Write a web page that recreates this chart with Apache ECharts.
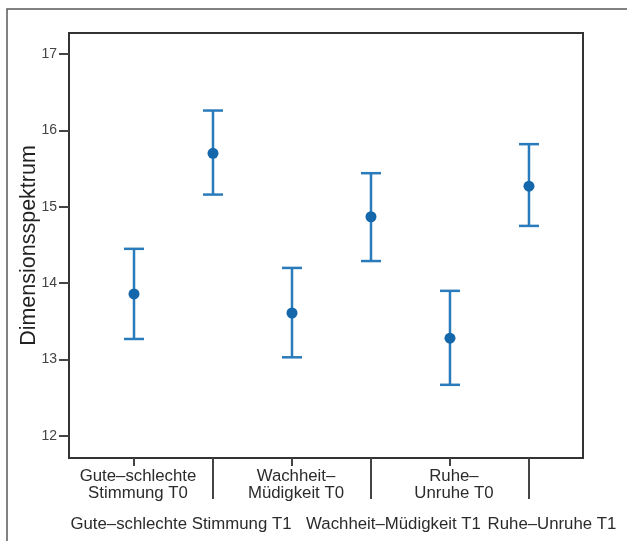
<!DOCTYPE html>
<html>
<head>
<meta charset="utf-8">
<script src="https://cdn.jsdelivr.net/npm/echarts@6/dist/echarts.min.js"></script>
<style>
html,body{margin:0;padding:0;background:#fff;}
#chart{width:627px;height:541px;}
</style>
</head>
<body>
<div id="chart"></div>
<script>
const categories = ['Gute–schlechte Stimmung T0','Gute–schlechte Stimmung T1','Wachheit–Müdigkeit T0','Wachheit–Müdigkeit T1','Ruhe–Unruhe T0','Ruhe–Unruhe T1'];
const positions = [1, 2, 3, 4, 5, 6];
const t0Positions = [1, 3, 5];
const t1Positions = [2, 4, 6];
const t0Labels = [['Gute–schlechte','Stimmung T0'], ['Wachheit–','Müdigkeit T0'], ['Ruhe–','Unruhe T0']];
const t1Labels = ['Gute–schlechte Stimmung T1', 'Wachheit–Müdigkeit T1', 'Ruhe–Unruhe T1'];
const means = [13.86, 15.70, 13.61, 14.87, 13.28, 15.27];
const upper = [14.45, 16.26, 14.20, 15.44, 13.90, 15.82];
const lower = [13.27, 15.16, 13.03, 14.29, 12.67, 14.75];
const yTicks = [12, 13, 14, 15, 16, 17];
const yName = 'Dimensionsspektrum';

const FONT = 'Liberation Sans, Arial, sans-serif';
const LABEL_COLOR = '#2b2b2b';
const BAR_COLOR = '#2a7bbb';
const DOT_COLOR = '#1467ab';

const chart = echarts.init(document.getElementById('chart'), null, {renderer: 'canvas'});

const baseStyle = {fontSize: 16.8, fontFamily: FONT, color: LABEL_COLOR, lineHeight: 17};
const t1Padding = [[0, 64, 0, 0], [0, 0, 0, 45], [0, 0, 0, 46]];

const xCommon = {
  type: 'value', min: 0.177, max: 6.684, position: 'bottom',
  axisLine: {show: false, onZero: false},
  splitLine: {show: false}
};

const t1Axes = t1Positions.map((p, i) => Object.assign({}, xCommon, {
  axisTick: {show: true, customValues: [p], length: 41, lineStyle: {color: '#444', width: 2}},
  axisLabel: {
    customValues: [p], margin: 58,
    showMinLabel: true, showMaxLabel: true, hideOverlap: false,
    formatter: () => '{s|' + t1Labels[i] + '}',
    rich: {s: Object.assign({}, baseStyle, {padding: t1Padding[i]})}
  }
}));

const option = {
  backgroundColor: '#fff',
  animation: false,
  graphic: [{
    type: 'rect', silent: true,
    shape: {x: 7, y: 9, width: 800, height: 800},
    style: {fill: 'none', stroke: '#5a5a5a', lineWidth: 1.5}
  }],
  grid: {left: 69, top: 33, right: 44, bottom: 83, show: true, borderColor: '#333', borderWidth: 2, backgroundColor: 'transparent'},
  xAxis: [
    Object.assign({}, xCommon, {
      axisTick: {show: true, customValues: t0Positions, length: 8, lineStyle: {color: '#444', width: 2}},
      axisLabel: {
        customValues: t0Positions, margin: 10,
        showMinLabel: true, showMaxLabel: true, hideOverlap: false,
        formatter: v => { const l = t0Labels[t0Positions.indexOf(Math.round(v))]; return '{a|' + l[0] + '}\n{a|' + l[1] + '}'; },
        rich: {a: Object.assign({padding: [0, 0, 0, 8]}, baseStyle)}
      }
    })
  ].concat(t1Axes),
  yAxis: {
    type: 'value', min: 11.712, max: 17.275,
    name: yName, nameLocation: 'middle', nameGap: 29, nameRotate: 90, nameMoveOverlap: false,
    nameTextStyle: {fontSize: 21.5, fontFamily: FONT, color: '#222'},
    axisLine: {show: false},
    splitLine: {show: false},
    axisTick: {show: true, customValues: yTicks, length: 10, lineStyle: {color: '#444', width: 2}},
    axisLabel: {customValues: yTicks, margin: 12, fontSize: 14, fontFamily: FONT, color: '#444', showMinLabel: true, showMaxLabel: true}
  },
  series: [
    {
      type: 'custom',
      xAxisIndex: 0,
      data: positions.map((p, i) => [p, lower[i], upper[i]]),
      renderItem: function (params, api) {
        const x = api.value(0);
        const lo = api.coord([x, api.value(1)]);
        const hi = api.coord([x, api.value(2)]);
        const hw = 10;
        const st = {stroke: BAR_COLOR, lineWidth: 2.5, fill: 'none'};
        return {
          type: 'group',
          children: [
            {type: 'line', shape: {x1: lo[0], y1: lo[1], x2: hi[0], y2: hi[1]}, style: st},
            {type: 'line', shape: {x1: lo[0] - hw, y1: lo[1], x2: lo[0] + hw, y2: lo[1]}, style: st},
            {type: 'line', shape: {x1: hi[0] - hw, y1: hi[1], x2: hi[0] + hw, y2: hi[1]}, style: st}
          ]
        };
      },
      z: 2
    },
    {
      type: 'scatter',
      xAxisIndex: 0,
      data: positions.map((p, i) => [p, means[i]]),
      symbol: 'circle',
      symbolSize: 11,
      itemStyle: {color: DOT_COLOR, opacity: 1},
      z: 3
    }
  ]
};
chart.setOption(option);
</script>
</body>
</html>
